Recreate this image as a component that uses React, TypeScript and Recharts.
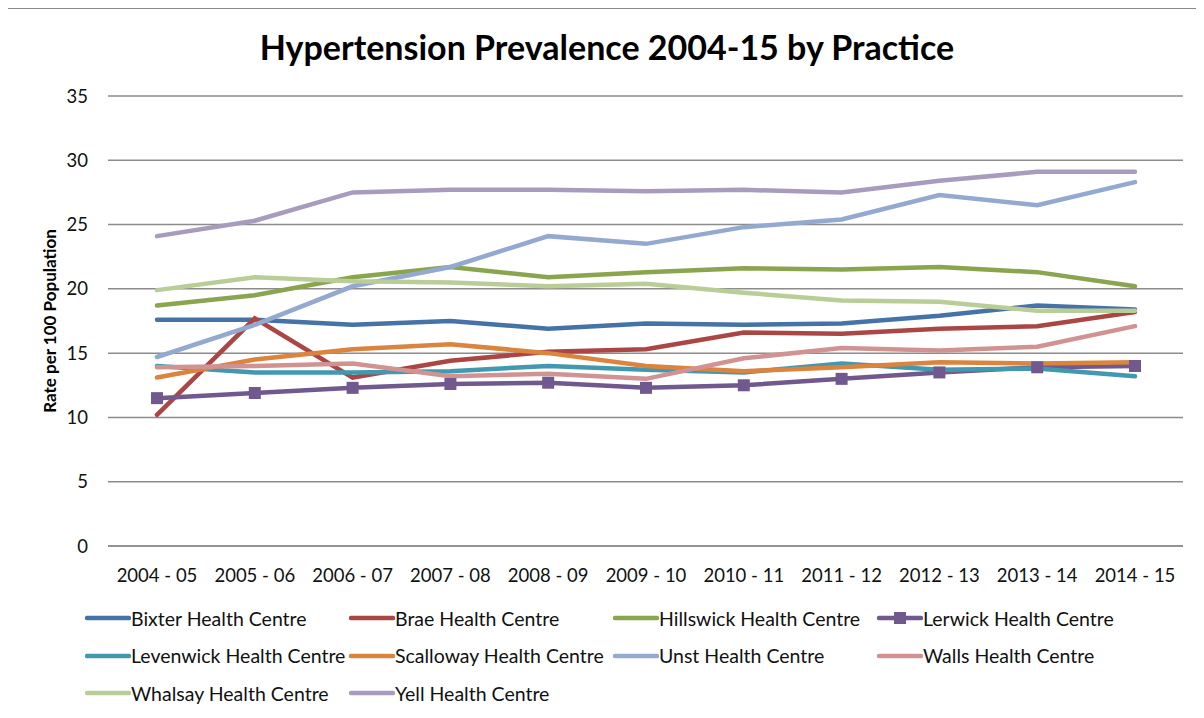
import React from "react";
import { LineChart, Line, XAxis, YAxis, CartesianGrid } from "recharts";

const years = [
  "2004 - 05", "2005 - 06", "2006 - 07", "2007 - 08", "2008 - 09", "2009 - 10",
  "2010 - 11", "2011 - 12", "2012 - 13", "2013 - 14", "2014 - 15",
];

const bixter = [17.6, 17.6, 17.2, 17.5, 16.9, 17.3, 17.2, 17.3, 17.9, 18.7, 18.4];
const brae = [10.2, 17.7, 13.1, 14.4, 15.1, 15.3, 16.6, 16.5, 16.9, 17.1, 18.2];
const hillswick = [18.7, 19.5, 20.9, 21.7, 20.9, 21.3, 21.6, 21.5, 21.7, 21.3, 20.2];
const lerwick = [11.5, 11.9, 12.3, 12.6, 12.7, 12.3, 12.5, 13.0, 13.5, 13.9, 14.0];
const levenwick = [14.0, 13.5, 13.5, 13.6, 14.0, 13.7, 13.5, 14.2, 13.7, 13.8, 13.2];
const scalloway = [13.1, 14.5, 15.3, 15.7, 15.0, 14.0, 13.6, 13.9, 14.3, 14.2, 14.3];
const unst = [14.7, 17.2, 20.2, 21.7, 24.1, 23.5, 24.8, 25.4, 27.3, 26.5, 28.3];
const walls = [13.9, 14.0, 14.2, 13.2, 13.4, 13.0, 14.6, 15.4, 15.2, 15.5, 17.1];
const whalsay = [19.9, 20.9, 20.6, 20.5, 20.2, 20.4, 19.7, 19.1, 19.0, 18.3, 18.3];
const yell = [24.1, 25.3, 27.5, 27.7, 27.7, 27.6, 27.7, 27.5, 28.4, 29.1, 29.1];

const yTicks = [0, 5, 10, 15, 20, 25, 30, 35];

const series = [
  { key: "bixter", name: "Bixter Health Centre", values: bixter, color: "#4572A7" },
  { key: "brae", name: "Brae Health Centre", values: brae, color: "#AA4643" },
  { key: "hillswick", name: "Hillswick Health Centre", values: hillswick, color: "#89A54E" },
  { key: "lerwick", name: "Lerwick Health Centre", values: lerwick, color: "#71588F", marker: true },
  { key: "levenwick", name: "Levenwick Health Centre", values: levenwick, color: "#4198AF" },
  { key: "scalloway", name: "Scalloway Health Centre", values: scalloway, color: "#DB843D" },
  { key: "unst", name: "Unst Health Centre", values: unst, color: "#93A9CF" },
  { key: "walls", name: "Walls Health Centre", values: walls, color: "#D19392" },
  { key: "whalsay", name: "Whalsay Health Centre", values: whalsay, color: "#B9CD96" },
  { key: "yell", name: "Yell Health Centre", values: yell, color: "#A99BBD" },
];

const data = years.map((year, i) => {
  const row: Record<string, string | number> = { year };
  series.forEach((s) => {
    row[s.key] = s.values[i];
  });
  return row;
});

const FONT = "Lato, 'Open Sans', sans-serif";

const SquareDot = (props: any) => {
  const { cx, cy, fill } = props;
  if (cx == null || cy == null) return null;
  return <rect x={cx - 6} y={cy - 6} width={12} height={12} fill={fill} />;
};

const App = () => {
  return (
    <div style={{ position: "relative", width: 1204, height: 718, margin: -8, overflow: "hidden", background: "#fff", fontFamily: FONT }}>
      <div
        style={{
          position: "absolute",
          left: 3,
          top: 8,
          width: 1220,
          height: 730,
          borderLeft: "1.5px solid #8a8a8a",
          borderTop: "1.5px solid #8a8a8a",
        }}
      />
      <div
        style={{
          position: "absolute",
          left: 0,
          width: 1214,
          top: 26,
          textAlign: "center",
          fontSize: 34,
          fontWeight: 700,
          color: "#000",
        }}
      >
        Hypertension Prevalence 2004-15 by Practice
      </div>
      <div style={{ position: "absolute", left: 0, top: 0 }}>
        <LineChart
          width={1204}
          height={718}
          data={data}
          margin={{ top: 96, right: 21, bottom: 142, left: 0 }}
        >
          <CartesianGrid vertical={false} stroke="#8c8c8c" strokeWidth={1.5} />
          <XAxis
            dataKey="year"
            height={30}
            padding={{ left: 49, right: 48 }}
            axisLine={{ stroke: "#8c8c8c", strokeWidth: 1.5 }}
            tickLine={false}
            tickSize={0}
            tickMargin={23}
            interval={0}
            tick={{ fontSize: 18.5, fill: "#111", fontFamily: FONT }}
          />
          <YAxis
            width={108}
            domain={[0, 35]}
            ticks={yTicks}
            axisLine={false}
            tickLine={false}
            tickSize={0}
            tickMargin={20}
            tick={{ fontSize: 18.5, fill: "#111", fontFamily: FONT }}
            label={{
              value: "Rate per 100 Population",
              angle: -90,
              position: "center",
              dx: -4,
              style: { fontSize: 17, fontWeight: 700, fill: "#000", fontFamily: FONT },
            }}
          />
          {series.map((s) => (
            <Line
              key={s.key}
              type="linear"
              dataKey={s.key}
              name={s.name}
              stroke={s.color}
              strokeWidth={4.5}
              strokeLinecap="round"
              dot={s.marker ? <SquareDot fill={s.color} /> : false}
              activeDot={false}
              isAnimationActive={false}
            />
          ))}
        </LineChart>
      </div>
      <div style={{ position: "absolute", left: 85, top: 606, width: 1100 }}>
        {series.map((s, i) => {
          const col = i % 4;
          const row = Math.floor(i / 4);
          return (
            <div
              key={s.key}
              style={{
                position: "absolute",
                left: col * 264,
                top: row * 37.5,
                display: "flex",
                alignItems: "center",
                height: 24,
                whiteSpace: "nowrap",
              }}
            >
              <svg width={46} height={24}>
                <line x1={2} y1={12} x2={44} y2={12} stroke={s.color} strokeWidth={4.5} strokeLinecap="round" />
                {s.marker && <rect x={17} y={6} width={12} height={12} fill={s.color} />}
              </svg>
              <span style={{ fontSize: 19.5, color: "#111" }}>{s.name}</span>
            </div>
          );
        })}
      </div>
    </div>
  );
};

export default App;
